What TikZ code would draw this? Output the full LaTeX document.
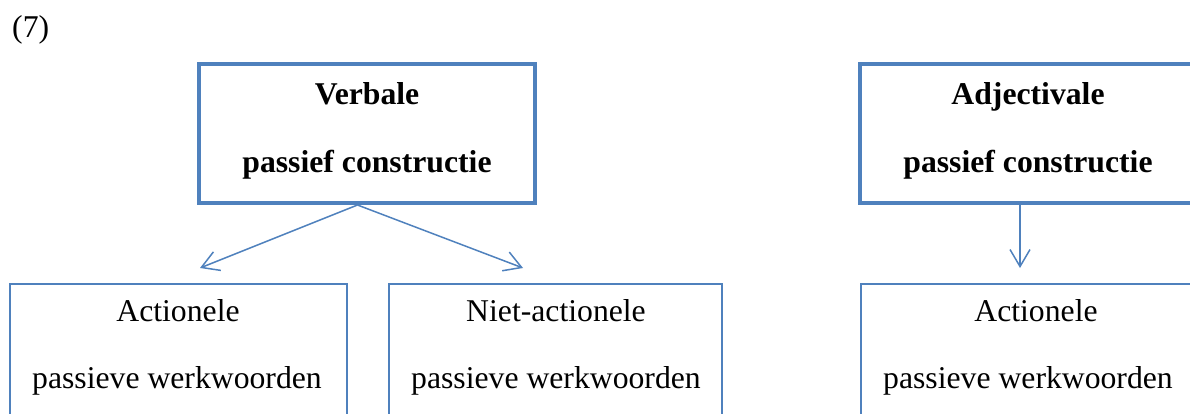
\documentclass[tikz,border=0pt]{standalone}
\usepackage{fontspec}
\setmainfont{Liberation Serif}
\usetikzlibrary{arrows.meta}
\definecolor{ofblue}{HTML}{4F81BD}
\tikzset{
  topbox/.style={draw=ofblue, line width=4pt, minimum width=336pt, minimum height=139pt, inner sep=0pt},
  subbox/.style={draw=ofblue, line width=1.8pt, minimum height=200pt, inner sep=0pt, anchor=north},
  lbl/.style={font=\fontsize{31.7}{38}\selectfont, anchor=base, inner sep=0pt},
  blbl/.style={font=\fontsize{31.7}{38}\selectfont\bfseries, anchor=base, inner sep=0pt},
  conn/.style={draw=ofblue, line width=1.5pt, -{Straight Barb[length=17pt,width=20pt]}}
}
\begin{document}
\begin{tikzpicture}[x=1pt,y=-1pt]
\useasboundingbox (0,0) rectangle (1190,414);
\clip (0,0) rectangle (1190,414);
\node[lbl, anchor=base west] (num) at (12,38) {(7)};
% top boxes
\node[topbox] (vb) at (367,133.5) {};
\node[blbl] (vbt1) at (367,105) {Verbale};
\node[blbl] (vbt2) at (367,173) {passief constructie};
\node[topbox] (ad) at (1028,133.5) {};
\node[blbl] (adt1) at (1028,105) {Adjectivale};
\node[blbl] (adt2) at (1028,173) {passief constructie};
% bottom boxes
\node[subbox, minimum width=337pt] (al) at (178.5,283) {};
\node[lbl] (alt1) at (178,321) {Actionele};
\node[lbl] (alt2) at (177,388) {passieve werkwoorden};
\node[subbox, minimum width=333pt] (nl) at (555.5,283) {};
\node[lbl] (nlt1) at (556,321) {Niet-actionele};
\node[lbl] (nlt2) at (556,388) {passieve werkwoorden};
\node[subbox, minimum width=334pt] (ar) at (1028,283) {};
\node[lbl] (art1) at (1036,321) {Actionele};
\node[lbl] (art2) at (1028,388) {passieve werkwoorden};
% connectors
\draw[conn] ([xshift=-9.5pt]vb.south) -- ([xshift=21.5pt,yshift=15pt]al.north);
\draw[conn] ([xshift=-9.5pt]vb.south) -- ([xshift=-32.5pt,yshift=15pt]nl.north);
\draw[conn] ([xshift=-8pt]ad.south) -- ([xshift=-8pt,yshift=15pt]ar.north);
\end{tikzpicture}
\end{document}
